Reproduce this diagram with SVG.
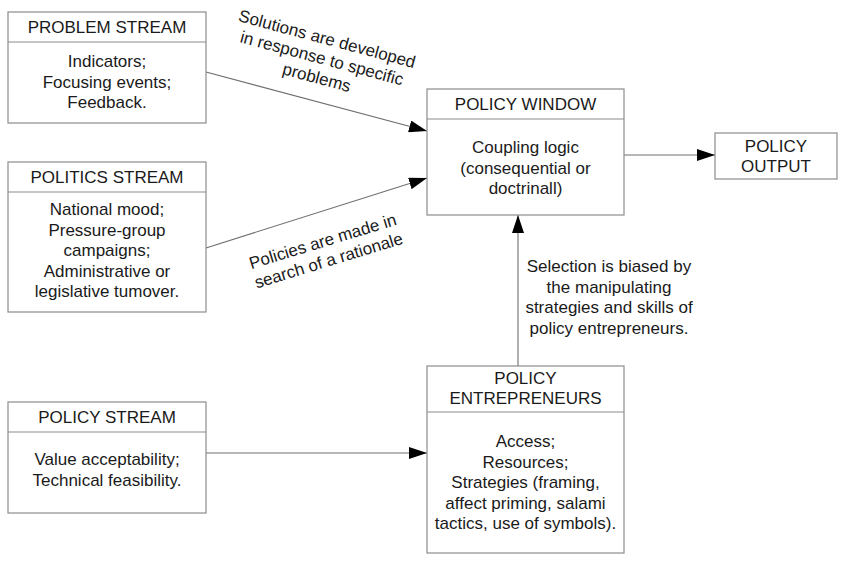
<svg xmlns="http://www.w3.org/2000/svg" width="850" height="566" viewBox="0 0 850 566">
<style>
.box{fill:#fff;stroke:#8c8c8c;stroke-width:1.2}
.div{stroke:#8c8c8c;stroke-width:1.2}
.t{font-family:"Liberation Sans",Arial,sans-serif;font-size:17px;fill:#1a1a1a;text-anchor:middle}
.c{stroke:#6e6e6e;stroke-width:1.1;fill:none;marker-end:url(#arr)}
</style>
<defs>
<marker id="arr" markerUnits="userSpaceOnUse" markerWidth="18" markerHeight="12" refX="18" refY="6" orient="auto">
<path d="M0,0 L18,6 L0,12 z" fill="#000"/>
</marker>
</defs>
<rect width="850" height="566" fill="#fff"/>
<g id="connectors">
<line class="c" x1="206" y1="72" x2="427" y2="131"/>
<line class="c" x1="206" y1="248" x2="427" y2="178"/>
<line class="c" x1="624" y1="155" x2="715" y2="155"/>
<line class="c" x1="518" y1="366" x2="518" y2="215"/>
<line class="c" x1="206" y1="453" x2="427" y2="453"/>
<g transform="translate(322,58) rotate(15)">
<text class="t" x="0" y="-14">Solutions are developed</text>
<text class="t" x="0" y="6">in response to specific</text>
<text class="t" x="0" y="26">problems</text>
</g>
<g transform="translate(323,242) rotate(-17)">
<text class="t" x="0" y="5">Policies are made in</text>
<text class="t" x="0" y="25">search of a rationale</text>
</g>
<g>
<text class="t" x="609" y="272">Selection is biased by</text>
<text class="t" x="609" y="292.5">the manipulating</text>
<text class="t" x="609" y="313">strategies and skills of</text>
<text class="t" x="609" y="333.5">policy entrepreneurs.</text>
</g>
</g>
<g id="problem-stream">
<rect class="box" x="8" y="12" width="198" height="111"/>
<line class="div" x1="8" y1="42" x2="206" y2="42"/>
<text class="t" x="107" y="33">PROBLEM STREAM</text>
<text class="t" x="107" y="67">Indicators;</text>
<text class="t" x="107" y="87.5">Focusing events;</text>
<text class="t" x="107" y="108">Feedback.</text>
</g>
<g id="politics-stream">
<rect class="box" x="8" y="162" width="198" height="150"/>
<line class="div" x1="8" y1="192" x2="206" y2="192"/>
<text class="t" x="107" y="183">POLITICS STREAM</text>
<text class="t" x="107" y="215">National mood;</text>
<text class="t" x="107" y="235.5">Pressure-group</text>
<text class="t" x="107" y="256">campaigns;</text>
<text class="t" x="107" y="276.5">Administrative or</text>
<text class="t" x="107" y="297">legislative tumover.</text>
</g>
<g id="policy-stream">
<rect class="box" x="8" y="402" width="198" height="111"/>
<line class="div" x1="8" y1="432" x2="206" y2="432"/>
<text class="t" x="107" y="423">POLICY STREAM</text>
<text class="t" x="107" y="465">Value acceptability;</text>
<text class="t" x="107" y="485.5">Technical feasibility.</text>
</g>
<g id="policy-window">
<rect class="box" x="427" y="89" width="197" height="126"/>
<line class="div" x1="427" y1="119" x2="624" y2="119"/>
<text class="t" x="525.5" y="110">POLICY WINDOW</text>
<text class="t" x="525.5" y="153">Coupling logic</text>
<text class="t" x="525.5" y="173.5">(consequential or</text>
<text class="t" x="525.5" y="194">doctrinall)</text>
</g>
<g id="policy-output">
<rect class="box" x="715" y="133" width="122" height="46"/>
<text class="t" x="776" y="152">POLICY</text>
<text class="t" x="776" y="172">OUTPUT</text>
</g>
<g id="policy-entrepreneurs">
<rect class="box" x="427" y="366" width="197" height="187"/>
<line class="div" x1="427" y1="412" x2="624" y2="412"/>
<text class="t" x="525.5" y="384">POLICY</text>
<text class="t" x="525.5" y="404">ENTREPRENEURS</text>
<text class="t" x="525.5" y="447">Access;</text>
<text class="t" x="525.5" y="467.5">Resources;</text>
<text class="t" x="525.5" y="488">Strategies (framing,</text>
<text class="t" x="525.5" y="508.5">affect priming, salami</text>
<text class="t" x="525.5" y="529">tactics, use of symbols).</text>
</g>
</svg>
